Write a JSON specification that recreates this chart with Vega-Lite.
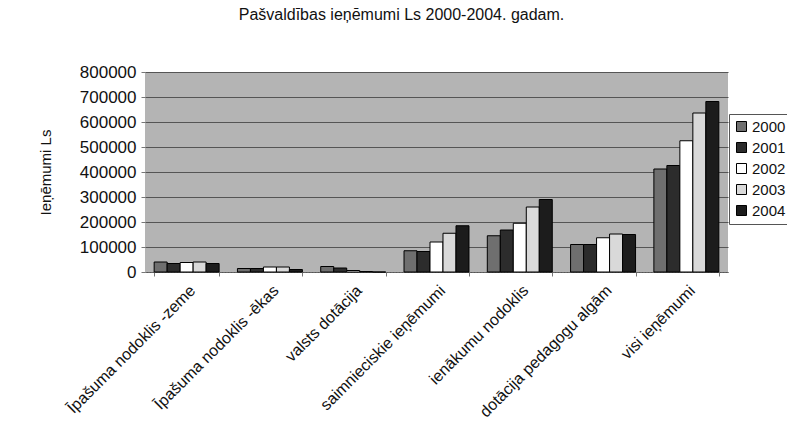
{
  "$schema": "https://vega.github.io/schema/vega-lite/v6.json",
  "width": 583,
  "height": 200,
  "autosize": {"type": "none"},
  "padding": {"left": 145, "top": 72, "right": 59, "bottom": 164},
  "background": "#ffffff",
  "title": {
    "text": "Pašvaldības ieņēmumi Ls 2000-2004. gadam.",
    "font": "Liberation Sans",
    "fontSize": 16,
    "fontWeight": "normal",
    "color": "#111111",
    "anchor": "middle",
    "dx": -35,
    "offset": 40
  },
  "data": {
    "values": [
      {"kategorija": "Īpašuma nodoklis -zeme", "gads": "2000", "summa": 40000},
      {"kategorija": "Īpašuma nodoklis -zeme", "gads": "2001", "summa": 34000},
      {"kategorija": "Īpašuma nodoklis -zeme", "gads": "2002", "summa": 38000},
      {"kategorija": "Īpašuma nodoklis -zeme", "gads": "2003", "summa": 40000},
      {"kategorija": "Īpašuma nodoklis -zeme", "gads": "2004", "summa": 34000},
      {"kategorija": "Īpašuma nodoklis -ēkas", "gads": "2000", "summa": 14000},
      {"kategorija": "Īpašuma nodoklis -ēkas", "gads": "2001", "summa": 14000},
      {"kategorija": "Īpašuma nodoklis -ēkas", "gads": "2002", "summa": 20000},
      {"kategorija": "Īpašuma nodoklis -ēkas", "gads": "2003", "summa": 20000},
      {"kategorija": "Īpašuma nodoklis -ēkas", "gads": "2004", "summa": 10000},
      {"kategorija": "valsts dotācija", "gads": "2000", "summa": 22000},
      {"kategorija": "valsts dotācija", "gads": "2001", "summa": 16000},
      {"kategorija": "valsts dotācija", "gads": "2002", "summa": 6000},
      {"kategorija": "valsts dotācija", "gads": "2003", "summa": 2000},
      {"kategorija": "valsts dotācija", "gads": "2004", "summa": 0},
      {"kategorija": "saimnieciskie ieņēmumi", "gads": "2000", "summa": 85000},
      {"kategorija": "saimnieciskie ieņēmumi", "gads": "2001", "summa": 82000},
      {"kategorija": "saimnieciskie ieņēmumi", "gads": "2002", "summa": 120000},
      {"kategorija": "saimnieciskie ieņēmumi", "gads": "2003", "summa": 155000},
      {"kategorija": "saimnieciskie ieņēmumi", "gads": "2004", "summa": 185000},
      {"kategorija": "ienākumu nodoklis", "gads": "2000", "summa": 145000},
      {"kategorija": "ienākumu nodoklis", "gads": "2001", "summa": 168000},
      {"kategorija": "ienākumu nodoklis", "gads": "2002", "summa": 195000},
      {"kategorija": "ienākumu nodoklis", "gads": "2003", "summa": 260000},
      {"kategorija": "ienākumu nodoklis", "gads": "2004", "summa": 290000},
      {"kategorija": "dotācija pedagogu algām", "gads": "2000", "summa": 110000},
      {"kategorija": "dotācija pedagogu algām", "gads": "2001", "summa": 110000},
      {"kategorija": "dotācija pedagogu algām", "gads": "2002", "summa": 137000},
      {"kategorija": "dotācija pedagogu algām", "gads": "2003", "summa": 152000},
      {"kategorija": "dotācija pedagogu algām", "gads": "2004", "summa": 150000},
      {"kategorija": "visi ieņēmumi", "gads": "2000", "summa": 412000},
      {"kategorija": "visi ieņēmumi", "gads": "2001", "summa": 426000},
      {"kategorija": "visi ieņēmumi", "gads": "2002", "summa": 525000},
      {"kategorija": "visi ieņēmumi", "gads": "2003", "summa": 636000},
      {"kategorija": "visi ieņēmumi", "gads": "2004", "summa": 682000}
    ]
  },
  "mark": {"type": "bar", "stroke": "#000000", "strokeWidth": 1},
  "encoding": {
    "x": {
      "field": "kategorija",
      "type": "nominal",
      "sort": null,
      "scale": {"paddingInner": 0.22, "paddingOuter": 0.11},
      "axis": {
        "title": null,
        "labelAngle": -45,
        "labelFont": "Liberation Sans",
        "labelFontSize": 16,
        "labelColor": "#111111",
        "labelPadding": 6,
        "labelLimit": 300,
        "tickBand": "extent",
        "tickColor": "#777777",
        "tickSize": 4,
        "domainColor": "#777777",
        "domainDash": [1, 2]
      }
    },
    "xOffset": {"field": "gads", "type": "nominal", "scale": {"paddingInner": 0, "paddingOuter": 0}},
    "y": {
      "field": "summa",
      "type": "quantitative",
      "scale": {"domain": [0, 800000], "nice": false},
      "axis": {
        "title": "Ieņēmumi Ls",
        "titleFont": "Liberation Sans",
        "titleFontSize": 15,
        "titleFontWeight": "normal",
        "titleColor": "#111111",
        "titlePadding": 26,
        "values": [0, 100000, 200000, 300000, 400000, 500000, 600000, 700000, 800000],
        "format": "d",
        "labelFont": "Liberation Sans",
        "labelFontSize": 17,
        "labelColor": "#111111",
        "labelPadding": 5,
        "tickColor": "#777777",
        "tickSize": 4,
        "domain": false,
        "grid": true,
        "gridColor": "#555555",
        "gridWidth": 1
      }
    },
    "fill": {
      "field": "gads",
      "type": "nominal",
      "scale": {
        "domain": ["2000", "2001", "2002", "2003", "2004"],
        "range": ["#6f6f6f", "#2c2c2c", "#ffffff", "#d9d9d9", "#1c1c1c"]
      },
      "legend": {
        "title": null,
        "orient": "none",
        "legendX": 584,
        "legendY": 42,
        "labelFont": "Liberation Sans",
        "labelFontSize": 15,
        "labelColor": "#111111",
        "symbolType": "square",
        "symbolSize": 100,
        "symbolStrokeColor": "#000000",
        "symbolStrokeWidth": 1,
        "rowPadding": 5,
        "labelOffset": 3,
        "padding": 5,
        "strokeColor": "#555555"
      }
    }
  },
  "config": {
    "view": {"fill": "#b4b4b4", "stroke": null},
    "axis": {"labelFont": "Liberation Sans"}
  }
}
